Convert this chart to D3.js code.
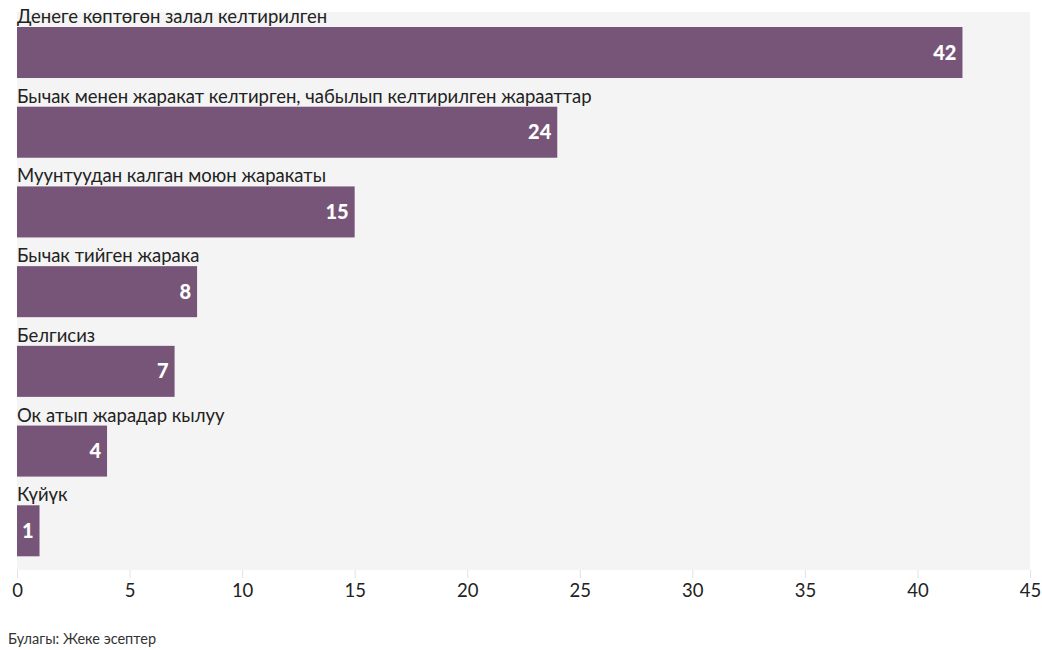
<!DOCTYPE html>
<html>
<head>
<meta charset="utf-8">
<script src="https://cdn.jsdelivr.net/npm/d3@7"></script>
<style>
body { margin: 0; background: #fff; font-family: "Source Sans Pro", Lato, "Noto Sans", sans-serif; }
</style>
</head>
<body>
<div id="chart"></div>
<script>
const categories = [
    'Денеге көптөгөн залал келтирилген',
    'Бычак менен жаракат келтирген, чабылып келтирилген жарааттар',
    'Муунтуудан калган моюн жаракаты',
    'Бычак тийген жарака',
    'Белгисиз',
    'Ок атып жарадар кылуу',
    'Күйүк'
]
const values = [42, 24, 15, 8, 7, 4, 1]
const ticks = [0, 5, 10, 15, 20, 25, 30, 35, 40, 45]
const source = 'Булагы: Жеке эсептер'

const width = 1042
const height = 650
const dim = { left: 17, right: 1030, top: 12, bottom: 570 }

const svg = d3.select('#chart').append('svg')
    .attr('width', width).attr('height', height)

const x = d3.scaleLinear().domain([0, 45]).range([dim.left, dim.right])
const y = d3.scaleBand().domain(categories).range([dim.top, dim.bottom]).padding(0)

svg.append('rect')
    .attr('x', dim.left).attr('y', dim.top)
    .attr('width', dim.right - dim.left).attr('height', dim.bottom - dim.top)
    .attr('fill', '#f4f4f4')

const rows = svg.selectAll('.row')
    .data(categories)
    .join('g').attr('class', 'row')
    .attr('transform', d => `translate(0,${y(d)})`)

const barTop = 15
const barH = y.bandwidth() * 0.64

rows.append('rect')
    .attr('x', x(0))
    .attr('y', barTop)
    .attr('width', (d, i) => x(values[i]) - x(0))
    .attr('height', barH)
    .attr('fill', '#775578')

rows.append('text')
    .attr('x', x(0))
    .attr('y', 11)
    .attr('fill', '#222')
    .style('font-size', '18.5px')
    .text(d => d)

rows.append('text')
    .attr('x', (d, i) => x(values[i]) - 6)
    .attr('y', barTop + barH / 2 + 7)
    .attr('text-anchor', 'end')
    .attr('fill', '#fff')
    .style('font-size', '20px')
    .style('font-weight', '900')
    .text((d, i) => values[i])

const axis = svg.append('g')
    .attr('transform', `translate(0,${dim.bottom})`)
    .call(d3.axisBottom(x).tickValues(ticks).tickSize(8).tickPadding(6))
axis.select('.domain').remove()
axis.selectAll('line').attr('stroke', '#e2e2e2')
axis.selectAll('text')
    .attr('fill', '#222')
    .style('font-size', '18.5px')
    .style('font-family', '"Source Sans Pro", Lato, "Noto Sans", sans-serif')

svg.append('text')
    .attr('x', 8).attr('y', 644)
    .attr('fill', '#333')
    .style('font-size', '14.5px')
    .text(source)
</script>
</body>
</html>
